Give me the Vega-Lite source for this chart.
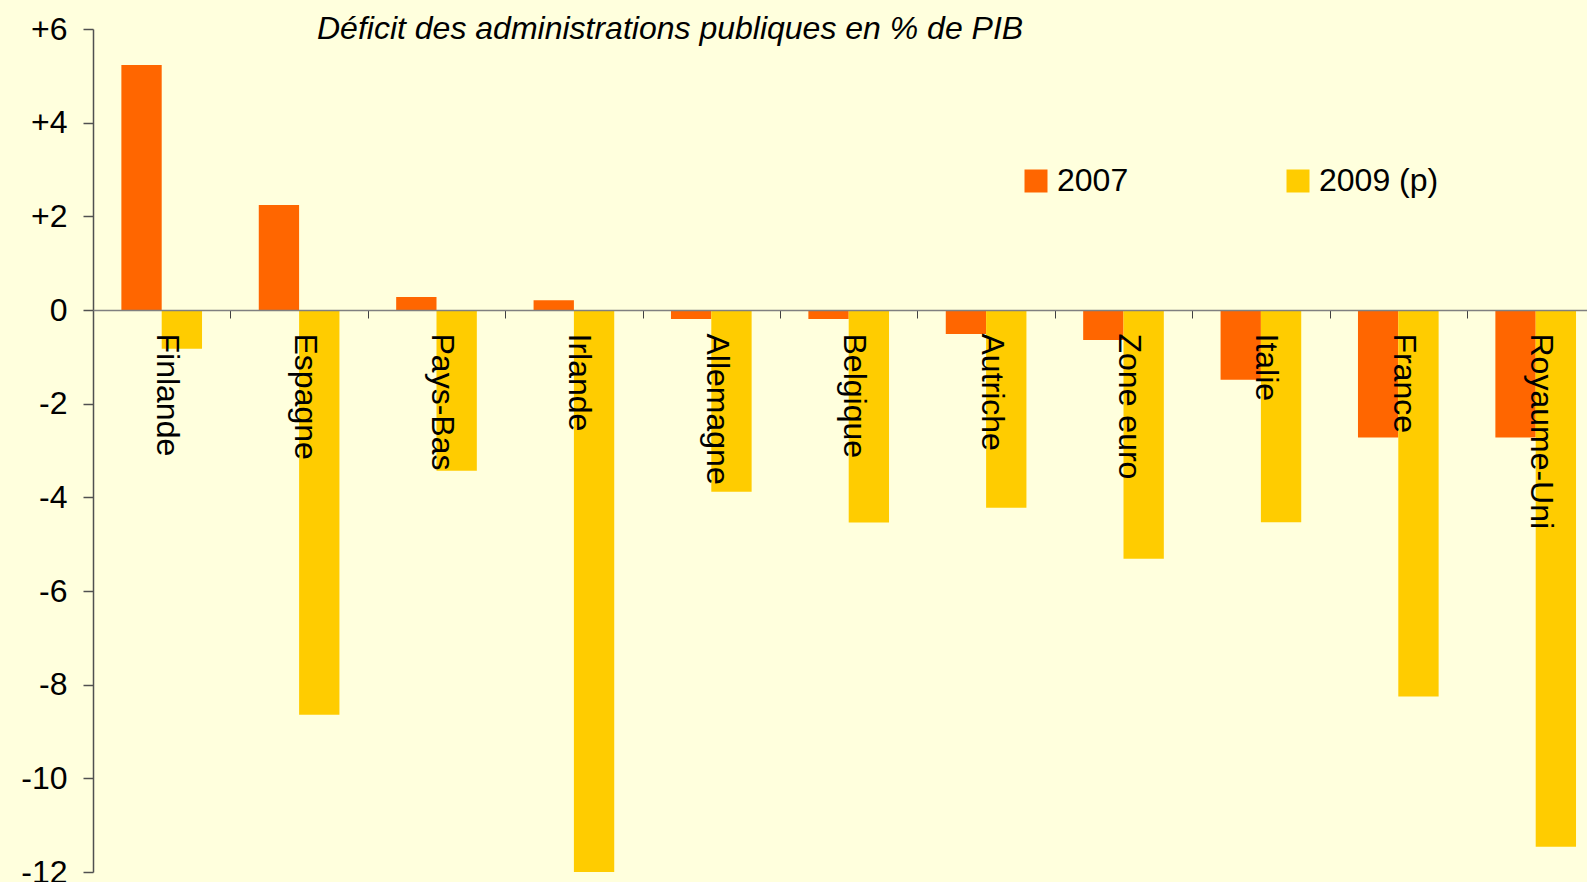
{
  "$schema": "https://vega.github.io/schema/vega-lite/v6.json",
  "autosize": {"type": "none"},
  "padding": {"left": 93, "top": 29, "right": 0, "bottom": 10},
  "width": 1494,
  "height": 843,
  "background": "#FFFFDD",
  "config": {
    "view": {"stroke": null},
    "font": "Liberation Sans"
  },
  "title": {
    "text": "Déficit des administrations publiques en % de PIB",
    "anchor": "start",
    "frame": "group",
    "font": "Liberation Sans",
    "fontSize": 32,
    "fontStyle": "italic",
    "fontWeight": "normal",
    "color": "#000000",
    "baseline": "alphabetic",
    "offset": 0,
    "dx": 224,
    "dy": 58
  },
  "data": {
    "values": [
      {"pays": "Finlande", "annee": "2007", "valeur": 5.23},
      {"pays": "Finlande", "annee": "2009 (p)", "valeur": -0.83},
      {"pays": "Espagne", "annee": "2007", "valeur": 2.24},
      {"pays": "Espagne", "annee": "2009 (p)", "valeur": -8.64},
      {"pays": "Pays-Bas", "annee": "2007", "valeur": 0.28},
      {"pays": "Pays-Bas", "annee": "2009 (p)", "valeur": -3.43},
      {"pays": "Irlande", "annee": "2007", "valeur": 0.21},
      {"pays": "Irlande", "annee": "2009 (p)", "valeur": -12.0},
      {"pays": "Allemagne", "annee": "2007", "valeur": -0.19},
      {"pays": "Allemagne", "annee": "2009 (p)", "valeur": -3.88},
      {"pays": "Belgique", "annee": "2007", "valeur": -0.19},
      {"pays": "Belgique", "annee": "2009 (p)", "valeur": -4.54},
      {"pays": "Autriche", "annee": "2007", "valeur": -0.51},
      {"pays": "Autriche", "annee": "2009 (p)", "valeur": -4.22},
      {"pays": "Zone euro", "annee": "2007", "valeur": -0.64},
      {"pays": "Zone euro", "annee": "2009 (p)", "valeur": -5.31},
      {"pays": "Italie", "annee": "2007", "valeur": -1.49},
      {"pays": "Italie", "annee": "2009 (p)", "valeur": -4.53},
      {"pays": "France", "annee": "2007", "valeur": -2.72},
      {"pays": "France", "annee": "2009 (p)", "valeur": -8.25},
      {"pays": "Royaume-Uni", "annee": "2007", "valeur": -2.72},
      {"pays": "Royaume-Uni", "annee": "2009 (p)", "valeur": -11.46}
    ]
  },
  "mark": {"type": "bar"},
  "encoding": {
    "x": {
      "field": "pays",
      "type": "nominal",
      "sort": null,
      "scale": {"range": [0, 1511.4], "paddingInner": 0.413, "paddingOuter": 0.2065},
      "axis": {
        "title": null,
        "orient": "bottom",
        "offset": -562,
        "zindex": 1,
        "domainColor": "#808080",
        "domainWidth": 1.5,
        "tickOffset": 68.7,
        "tickColor": "#404040",
        "tickWidth": 1,
        "tickSize": 8,
        "labelAngle": 90,
        "labelAlign": "left",
        "labelBaseline": "middle",
        "labelPadding": 15,
        "labelOffset": -63.7,
        "labelFont": "Liberation Sans",
        "labelFontSize": 32,
        "labelColor": "#000000",
        "labelOverlap": false,
        "labelBound": false,
        "labelFlush": false,
        "labelLimit": 0
      }
    },
    "xOffset": {"field": "annee", "type": "nominal", "sort": ["2007", "2009 (p)"], "scale": {"paddingInner": 0, "paddingOuter": 0}},
    "y": {
      "field": "valeur",
      "type": "quantitative",
      "scale": {"domain": [-12, 6], "nice": false, "zero": false},
      "axis": {
        "title": null,
        "grid": false,
        "values": [-12, -10, -8, -6, -4, -2, 0, 2, 4, 6],
        "labelExpr": "datum.value > 0 ? '+' + datum.value : '' + datum.value",
        "domainColor": "#505050",
        "domainWidth": 1.5,
        "tickColor": "#505050",
        "tickWidth": 1.5,
        "tickSize": 10,
        "labelPadding": 16,
        "labelFont": "Liberation Sans",
        "labelFontSize": 32,
        "labelColor": "#000000",
        "labelBaseline": "middle",
        "labelOverlap": false,
        "labelBound": false,
        "labelFlush": false
      }
    },
    "color": {
      "field": "annee",
      "type": "nominal",
      "scale": {"domain": ["2007", "2009 (p)"], "range": ["#FF6600", "#FFCC00"]},
      "legend": {
        "title": null,
        "orient": "none",
        "direction": "horizontal",
        "legendX": 927,
        "legendY": 136,
        "padding": 0,
        "symbolType": "square",
        "symbolSize": 529,
        "symbolStrokeWidth": 0,
        "symbolOpacity": 1,
        "labelFont": "Liberation Sans",
        "labelFontSize": 32,
        "labelColor": "#000000",
        "labelOffset": 5,
        "columnPadding": 153,
        "labelLimit": 0
      }
    }
  }
}
